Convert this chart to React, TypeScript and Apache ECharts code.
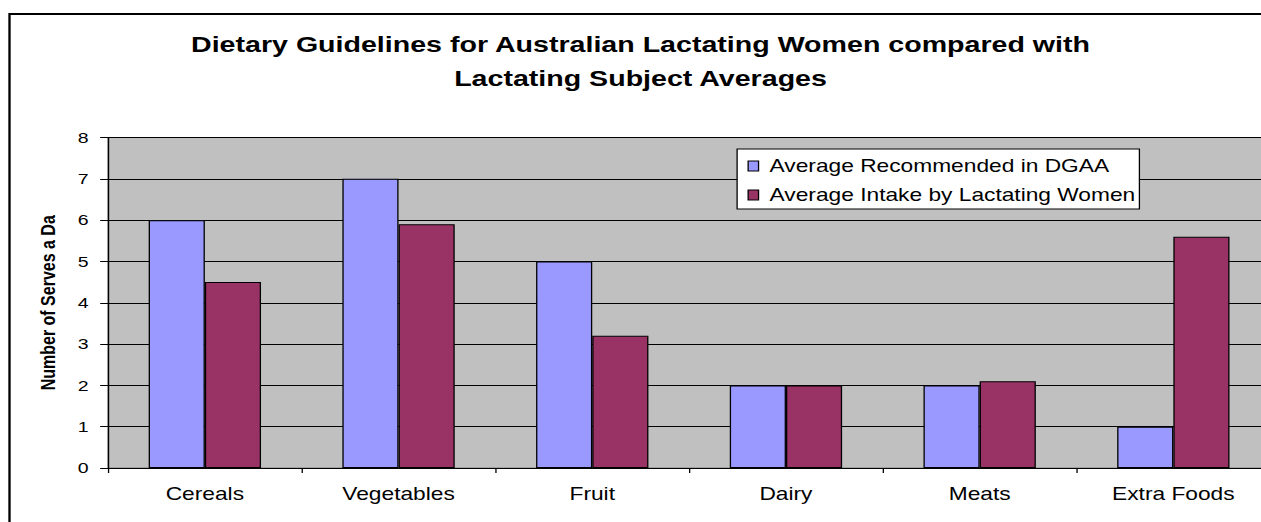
import React, { useEffect, useRef } from "react";
import * as echarts from "echarts";

const categories = ["Cereals", "Vegetables", "Fruit", "Dairy", "Meats", "Extra Foods"];
const recommended = [6, 7, 5, 2, 2, 1];
const intake = [4.5, 5.9, 3.2, 2, 2.1, 5.6];
const seriesNames = ["Average Recommended in DGAA", "Average Intake by Lactating Women"];
const titleLines = [
  "Dietary Guidelines for Australian Lactating Women compared with",
  "Lactating Subject Averages",
];
const yAxisTitle = "Number of Serves a Da";

// The reference picture is horizontally stretched; the chart is drawn in a
// narrower box and stretched by the same factor.
const STRETCH = 1.3;
const CHART_W = 1000;
const CHART_H = 560;

export default function App() {
  const ref = useRef<HTMLDivElement>(null);
  useEffect(() => {
    if (!ref.current) return;
    const chart = echarts.init(ref.current, null, { renderer: "svg" });
    const font = "'Liberation Sans', Arial, sans-serif";
    chart.setOption({
      animation: false,
      backgroundColor: "#ffffff",
      title: {
        text: titleLines.join("\n"),
        left: 634 / STRETCH,
        textAlign: "center",
        top: 22,
        textStyle: { fontFamily: font, fontSize: 22, fontWeight: "bold", color: "#000", lineHeight: 34 },
      },
      graphic: [
        {
          type: "rect",
          shape: { x: 9.5 / STRETCH, y: 14, width: 1400, height: 700 },
          style: { fill: "none", stroke: "#000", lineWidth: 1.8 },
          silent: true,
        },
      ],
      legend: {
        orient: "vertical",
        left: 567,
        top: 149,
        backgroundColor: "#fff",
        borderColor: "#000",
        borderWidth: 1,
        borderRadius: 0,
        padding: [7, 3, 4, 8],
        itemGap: 9,
        itemWidth: 8,
        itemHeight: 10,
        icon: "rect",
        data: seriesNames,
        itemStyle: { borderColor: "#000", borderWidth: 1 },
        textStyle: { fontFamily: font, fontSize: 17.5, color: "#000", lineHeight: 20, padding: [0, 0, 0, 3.5] },
      },
      grid: {
        left: 108 / STRETCH,
        top: 137.5,
        right: CHART_W - 108 / STRETCH - (6 * 193.7) / STRETCH,
        bottom: CHART_H - 468,
        show: true,
        backgroundColor: "#C0C0C0",
        borderColor: "#808080",
        borderWidth: 1,
      },
      xAxis: {
        type: "category",
        data: categories,
        axisLine: { show: true, lineStyle: { color: "#000", width: 1 } },
        axisTick: { show: true, length: 5, lineStyle: { color: "#000" } },
        axisLabel: { fontFamily: font, fontSize: 17.5, color: "#000", margin: 17 },
      },
      yAxis: {
        type: "value",
        min: 0,
        max: 8,
        interval: 1,
        name: yAxisTitle,
        nameLocation: "middle",
        nameGap: 38,
        nameRotate: 90,
        nameTextStyle: { fontFamily: font, fontSize: 16, fontWeight: "bold", color: "#000" },
        axisLine: { show: true, lineStyle: { color: "#000", width: 1 } },
        axisTick: { show: true, length: 6, lineStyle: { color: "#000" } },
        axisLabel: { fontFamily: font, fontSize: 15, color: "#000", margin: 15 },
        splitLine: { show: true, lineStyle: { color: "#000", width: 1 } },
      },
      series: [
        {
          name: seriesNames[0],
          type: "bar",
          data: recommended,
          barGap: "0%",
          barCategoryGap: "42%",
          itemStyle: { color: "#9999FF", borderColor: "#000", borderWidth: 1 },
        },
        {
          name: seriesNames[1],
          type: "bar",
          data: intake,
          barGap: "0%",
          barCategoryGap: "42%",
          itemStyle: { color: "#993366", borderColor: "#000", borderWidth: 1 },
        },
      ],
    });
    return () => chart.dispose();
  }, []);
  return (
    <div style={{ position: "fixed", left: 0, top: 0, width: 1261, height: 522, overflow: "hidden", background: "#fff" }}>
      <div
        ref={ref}
        style={{ width: CHART_W, height: CHART_H, transform: `scaleX(${STRETCH})`, transformOrigin: "0 0" }}
      />
    </div>
  );
}
